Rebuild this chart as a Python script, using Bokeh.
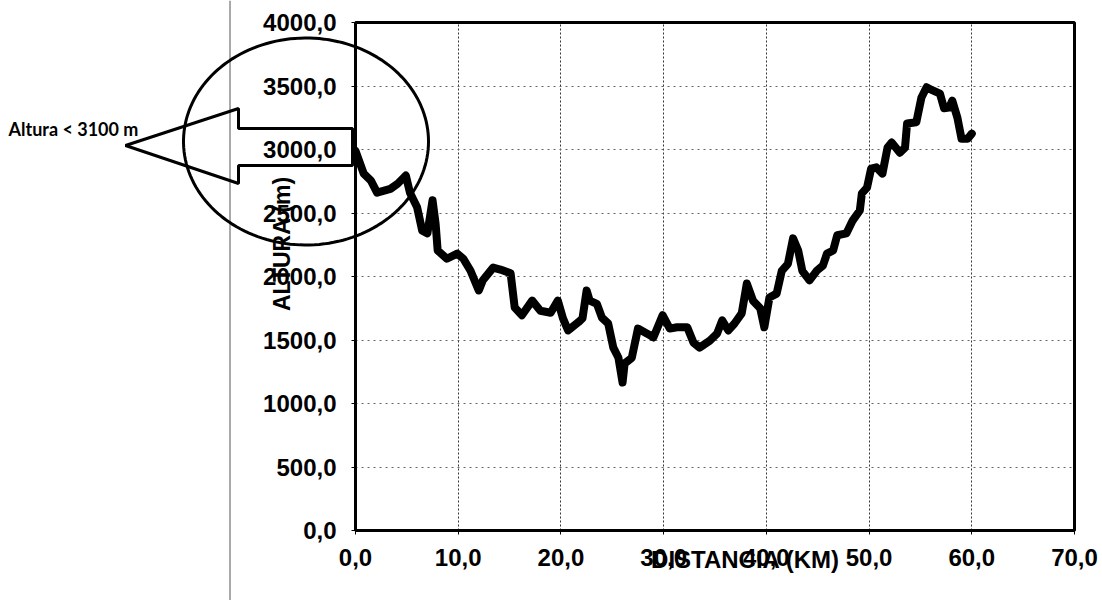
import numpy as np
from bokeh.plotting import figure
from bokeh.models import (FixedTicker, Label, PolyAnnotation, BoxAnnotation,
                          LinearAxis, Grid, Span)
from bokeh.embed import file_html
from bokeh.resources import INLINE

# ---- data ----
distance_km = [0.0, 0.8, 1.5, 2.1, 3.4, 4.1, 4.9, 5.3, 6.0, 6.5, 7.0, 7.5, 7.8, 8.0,
               8.9, 9.9, 10.5, 11.2, 12.0, 12.4, 13.4, 14.1, 15.1, 15.5, 16.2, 17.2,
               18.0, 19.0, 19.7, 20.2, 20.7, 21.7, 22.1, 22.5, 22.8, 23.5, 24.0, 24.6,
               25.1, 25.6, 26.0, 26.2, 26.9, 27.5, 28.4, 29.0, 29.9, 30.6, 31.3, 32.3,
               32.9, 33.5, 34.5, 35.2, 35.7, 36.3, 36.9, 37.6, 38.1, 38.7, 39.4, 39.8,
               40.3, 41.0, 41.5, 42.1, 42.6, 43.1, 43.5, 44.2, 44.9, 45.5, 45.9, 46.5,
               46.9, 47.8, 48.4, 49.1, 49.3, 49.8, 50.2, 50.7, 51.3, 51.8, 52.2, 53.0,
               53.5, 53.7, 54.6, 55.1, 55.6, 56.2, 56.9, 57.3, 57.8, 58.1, 58.6, 59.0,
               59.6, 60.0]
altitude_m = [2990, 2810, 2755, 2660, 2690, 2730, 2795, 2660, 2545, 2360, 2340, 2600, 2415, 2205,
              2140, 2180, 2140, 2045, 1890, 1970, 2070, 2055, 2025, 1755, 1695, 1810,
              1730, 1715, 1810, 1670, 1575, 1640, 1670, 1890, 1810, 1785, 1675, 1630,
              1440, 1360, 1165, 1315, 1360, 1590, 1550, 1520, 1695, 1590, 1600, 1600,
              1480, 1440, 1495, 1550, 1655, 1575, 1630, 1710, 1945, 1810, 1750, 1600,
              1835, 1865, 2045, 2100, 2300, 2205, 2045, 1970, 2045, 2085, 2180, 2205,
              2325, 2340, 2440, 2520, 2655, 2700, 2850, 2860, 2810, 3015, 3055, 2975,
              3015, 3205, 3215, 3410, 3490, 3465, 3440, 3325, 3330, 3385, 3250, 3085,
              3085, 3125]

x_ticks = [0, 10, 20, 30, 40, 50, 60, 70]
x_tick_labels = ["0,0", "10,0", "20,0", "30,0", "40,0", "50,0", "60,0", "70,0"]
y_ticks = [0, 500, 1000, 1500, 2000, 2500, 3000, 3500, 4000]
y_tick_labels = ["0,0", "500,0", "1000,0", "1500,0", "2000,0", "2500,0", "3000,0", "3500,0", "4000,0"]
x_limits = (0, 70)
y_limits = (0, 4000)

x_title = "DISTANCIA (KM)"
y_title = "ALTURA (m)"
note_text = "Altura < 3100 m"

W, H = 1102, 600
FONT = "Liberation Sans"

# page pixel -> data coordinates (plot box spans x 355..1074, y 530..22)
def dx(px):
    return (px - 355) * 70.0 / 719.0

def dy(py):
    return (530 - py) * 4000.0 / 508.0

# the frame covers the whole canvas so the callout outside the plot box can be drawn
p = figure(width=W, height=H, x_range=(dx(0), dx(W)), y_range=(dy(H), dy(0)),
           output_backend="svg", toolbar_location=None,
           x_axis_type=None, y_axis_type=None,
           min_border=0, min_border_left=0, min_border_right=0,
           min_border_top=0, min_border_bottom=0)
p.background_fill_color = "white"
p.border_fill_color = "white"
p.outline_line_color = None

# grid restricted to the plot box
xgrid = Grid(dimension=0, ticker=FixedTicker(ticks=x_ticks),
             grid_line_color="#333333", grid_line_dash="2 2", grid_line_width=1)
ygrid = Grid(dimension=1, ticker=FixedTicker(ticks=y_ticks),
             grid_line_color="#666666", grid_line_dash="2 4", grid_line_width=1)
try:
    xgrid.cross_bounds = y_limits
    ygrid.cross_bounds = x_limits
except AttributeError:
    pass
p.add_layout(xgrid)
p.add_layout(ygrid)

# plot box
p.add_layout(BoxAnnotation(left=x_limits[0], right=x_limits[1], bottom=y_limits[0], top=y_limits[1],
                           fill_alpha=0, line_color="black", line_alpha=1, line_width=3))

# axes placed at data 0
xaxis = LinearAxis(fixed_location=0, ticker=FixedTicker(ticks=x_ticks), bounds=x_limits)
yaxis = LinearAxis(fixed_location=0, ticker=FixedTicker(ticks=y_ticks), bounds=y_limits)
xaxis.major_label_overrides = dict(zip(x_ticks, x_tick_labels))
yaxis.major_label_overrides = dict(zip(y_ticks, y_tick_labels))
for ax in (xaxis, yaxis):
    ax.axis_line_color = "black"
    ax.axis_line_width = 3
    ax.major_tick_line_color = "black"
    ax.major_tick_line_width = 1
    ax.major_tick_in = 0
    ax.major_tick_out = 4
    ax.minor_tick_line_color = None
    ax.major_label_text_font = FONT
    ax.major_label_text_font_style = "bold"
    ax.major_label_text_font_size = "24px"
    ax.major_label_text_color = "black"
xaxis.major_label_standoff = 14
yaxis.major_label_standoff = 15
p.add_layout(xaxis, "below")
p.add_layout(yaxis, "left")

# elevation profile
p.line(distance_km, altitude_m, line_color="black", line_width=8,
       line_join="round", line_cap="round")

# axis titles (overlapping tick labels as in the original)
p.add_layout(Label(x=dx(745), y=dy(559), text=x_title, text_font=FONT,
                   text_font_style="bold", text_font_size="24px",
                   text_align="center", text_baseline="middle", text_color="black"))
p.add_layout(Label(x=dx(281), y=dy(243), text=y_title, text_font=FONT,
                   text_font_style="bold", text_font_size="23px", angle=np.pi / 2,
                   text_align="center", text_baseline="middle", text_color="black"))

# scan line at left
p.add_layout(Span(location=dx(229.5), dimension="height", line_color="#555555", line_width=1))

# ellipse callout
t = np.linspace(0, 2 * np.pi, 160)
ex = [dx(305.5 + 122.5 * np.cos(a)) for a in t]
ey = [dy(141 + 103.5 * np.sin(a)) for a in t]
p.add_layout(PolyAnnotation(xs=ex, ys=ey, fill_alpha=0, line_color="black",
                            line_alpha=1, line_width=3))

# arrow callout
arrow_px = [(125, 145), (238, 108), (238, 128), (352, 128), (352, 165), (238, 165), (238, 183)]
p.add_layout(PolyAnnotation(xs=[dx(a) for a, b in arrow_px], ys=[dy(b) for a, b in arrow_px],
                            fill_alpha=0, line_color="black", line_alpha=1, line_width=3))

p.add_layout(Label(x=dx(8), y=dy(128), text=note_text, text_font="Lato",
                   text_font_style="bold", text_font_size="18px",
                   text_align="left", text_baseline="middle", text_color="black"))

open("out.html", "w").write(file_html(p, INLINE))
